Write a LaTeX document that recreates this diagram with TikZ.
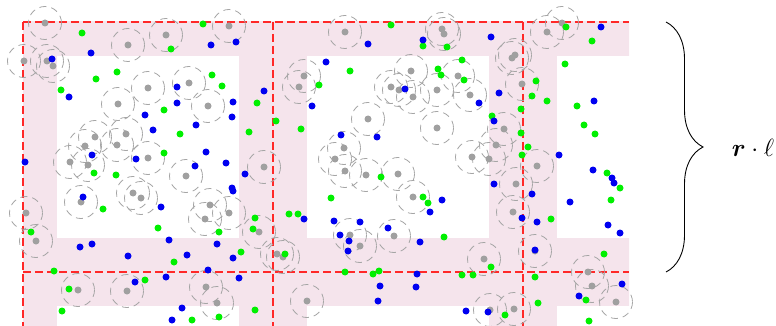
\documentclass[tikz,border=0pt]{standalone}
\usepackage{amsmath}
\usetikzlibrary{decorations.pathreplacing}
\definecolor{bandpink}{RGB}{245,228,236}
\definecolor{dashred}{RGB}{255,40,40}
\definecolor{dotgray}{RGB}{160,160,160}
\definecolor{ringgray}{RGB}{165,165,165}
\definecolor{dotgreen}{RGB}{0,240,0}
\definecolor{dotblue}{RGB}{0,0,240}
\tikzset{
  band/.style={fill=bandpink,draw=none},
  gridline/.style={draw=dashred,line width=1.2pt,dash pattern=on 8pt off 4pt},
  ring/.style={draw=ringgray,line width=0.8pt,dash pattern=on 7pt off 5pt},
  graydot/.style={fill=dotgray},
  greendot/.style={fill=dotgreen},
  bluedot/.style={fill=dotblue},
  bracestyle/.style={draw=black,line width=0.9pt,decorate,decoration={brace,amplitude=37pt}},
  lbl/.style={inner sep=0pt,font=\fontsize{29}{32}\selectfont}
}
\begin{document}
\begin{tikzpicture}[x=1pt,y=-1pt]
\useasboundingbox (0,0) rectangle (776,326);
% pink bands
\begin{scope}
\clip (23,22) rectangle (629,326);
\fill[band] (0,-12) rectangle (640,56);
\fill[band] (0,238) rectangle (640,306);
\fill[band] (-11,0) rectangle (57,330);
\fill[band] (239,0) rectangle (307,330);
\fill[band] (489,0) rectangle (557,330);
\end{scope}
% grid lines
\coordinate (v1t) at (23,22); \coordinate (v1b) at (23,326);
\coordinate (v2t) at (273,22); \coordinate (v2b) at (273,326);
\coordinate (v3t) at (523,22); \coordinate (v3b) at (523,326);
\coordinate (h1l) at (23,22); \coordinate (h1r) at (629,22);
\coordinate (h2l) at (23,272); \coordinate (h2r) at (629,272);
\draw[gridline] (v1t) -- (v1b);
\draw[gridline] (v2t) -- (v2b);
\draw[gridline] (v3t) -- (v3b);
\draw[gridline] (h1l) -- (h1r);
\draw[gridline] (h2l) -- (h2r);
% gray points with rings
\def\graylist{45/23,128/45,166/35,229/26,24/61,47/61,53/66,148/88,189/83,118/104,208/106,126/134,95/137,85/146,117/145,148/158,70/162,88/165,264/167,345/32,442/29,444/34,512/58,515/55,304/76,299/87,411/71,391/87,399/90,413/97,437/90,458/76,470/95,522/84,368/119,437/128,504/129,496/145,344/148,335/159,472/157,489/159,537/166,562/23,547/32,186/176,81/202,133/193,141/198,210/205,205/219,229/213,26/213,36/241,259/232,277/254,78/290,127/291,206/287,217/303,345/171,366/175,398/174,413/197,516/184,513/212,350/235,360/246,394/236,283/257,484/259,307/301,490/310,514/309,535/251,588/272,592/286,616/302}
\foreach \x/\y in \graylist { \draw[ring] (\x,\y) circle (16.5); }
\foreach \x/\y in \graylist { \fill[graydot] (\x,\y) circle (3.5); }
% green points
\foreach \x/\y in {82/33,203/24,171/49,117/72,96/79,61/90,212/75,222/86,164/110,180/134,164/153,257/103,276/121,249/132,391/25,423/46,447/47,350/71,319/85,438/69,441/75,462/60,464/80,536/81,532/96,521/109,492/116,521/133,528/147,522/155,301/129,566/27,592/41,565/64,547/101,577/106,584/125,595/134,94/173,116/175,103/209,158/228,219/232,255/218,253/229,31/232,241/252,174/262,54/271,145/280,69/289,62/311,192/320,219/317,255/310,381/177,331/198,423/197,428/203,289/214,298/214,444/237,285/254,491/267,345/272,373/274,379/271,462/275,473/275,535/277,538/303,505/315,607/173,620/188,611/200,551/219,604/254,586/300,589/321}
  { \fill[greendot] (\x,\y) circle (3.5); }
% blue points
\foreach \x/\y in {91/53,52/59,211/45,236/42,69/97,177/87,177/103,233/102,232/117,145/115,196/125,153/130,206/152,226/163,195/166,136/159,92/155,25/162,264/91,368/44,423/40,491/37,326/62,312/106,405/89,499/93,479/103,494/121,341/135,377/137,601/27,594/101,559/155,593/170,245/174,83/197,232/188,233/191,161/207,169/240,217/244,80/247,92/244,128/256,187/255,233/258,208/270,166/277,135/282,239/278,182/308,172/320,494/184,442/200,430/212,304/219,334/221,360/222,388/228,340/235,349/241,348/251,420/242,532/194,522/218,537/222,535/250,417/274,416/287,380/286,378/301,466/311,488/312,612/178,614/183,570/202,608/225,620/233,622/284,579/296}
  { \fill[bluedot] (\x,\y) circle (3.5); }
% brace and label
\coordinate (bt) at (666,22);
\coordinate (bb) at (666,272);
\draw[bracestyle] (bt) -- (bb);
\node[lbl] (len) at (753,148) {$\boldsymbol{r}\cdot\ell$};
\end{tikzpicture}
\end{document}
